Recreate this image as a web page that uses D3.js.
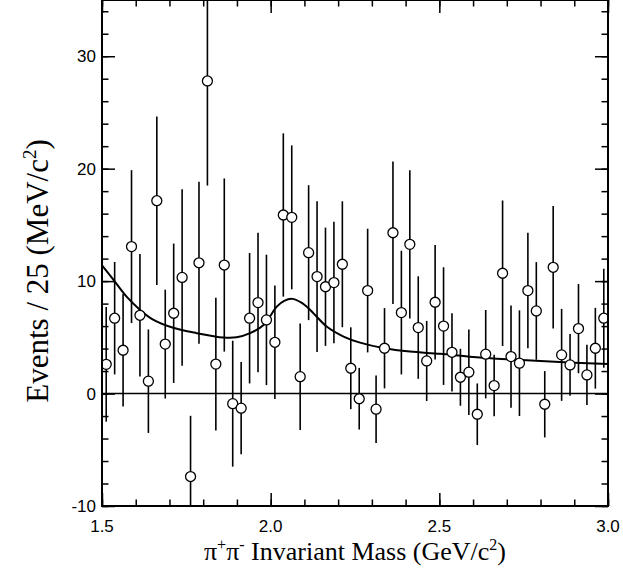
<!DOCTYPE html>
<html>
<head>
<meta charset="utf-8">
<script src="https://cdn.jsdelivr.net/npm/d3@7"></script>
<style>
  body { margin: 0; background: #fff; }
  .tick-label { font-family: "Liberation Sans", Arial, sans-serif; font-size: 17px; fill: #000; }
  .axis-title { font-family: "Liberation Serif", "Times New Roman", serif; fill: #000; }
</style>
</head>
<body>
<div id="chart"></div>
<script>
// bins: 25 MeV wide from 1.5 to 3.0 GeV
var binStart = 1.5;
var binWidth = 0.025;
var counts = [2.6, 6.7, 3.85, 13.07, 6.96, 1.1, 17.15, 4.4, 7.14, 10.33,
              -7.38, 11.63, 27.8, 2.62, 11.43, -0.9, -1.3, 6.7, 8.09, 6.55,
              4.56, 15.88, 15.67, 1.5, 12.53, 10.4, 9.5, 9.87, 11.5, 2.25,
              -0.46, 9.16, -1.39, 4.03, 14.3, 7.2, 13.27, 5.87, 2.9, 8.12,
              6.0, 3.67, 1.45, 1.9, -1.84, 3.5, 0.71, 10.7, 3.29, 2.7,
              9.16, 7.35, -0.95, 11.23, 3.44, 2.55, 5.78, 1.66, 4.03, 6.7];
var errors = [5.1, 5.0, 5.0, 6.8, 5.45, 4.6, 7.5, 4.84, 6.2, 7.85,
              5.4, 7.2, 9.3, 5.9, 7.7, 5.6, 4.1, 5.8, 6.2, 5.8,
              5.04, 7.26, 6.4, 4.74, 6.0, 6.7, 5.26, 5.4, 5.6, 3.64,
              2.74, 5.5, 3.0, 3.57, 6.33, 5.5, 6.6, 4.56, 3.56, 5.1,
              5.23, 3.48, 2.53, 3.8, 2.74, 3.93, 2.73, 6.47, 4.55, 4.7,
              5.14, 4.34, 2.95, 5.44, 4.09, 2.74, 3.97, 2.67, 3.59, 4.4];

// fit curve
var fitMass  = [1.5, 1.537, 1.575, 1.613, 1.65, 1.711, 1.781, 1.86, 1.899, 1.939, 1.979,
                2.018, 2.04, 2.064, 2.09, 2.117, 2.166, 2.216, 2.265, 2.337, 2.413,
                2.502, 2.6, 2.7, 2.8, 2.9, 3.0];
var fitValue = [11.4, 10.0, 8.55, 7.44, 6.6, 5.85, 5.37, 4.98, 5.0, 5.37, 6.1,
                7.73, 8.25, 8.42, 8.1, 7.44, 5.96, 5.07, 4.53, 4.03, 3.73,
                3.53, 3.25, 3.05, 2.9, 2.75, 2.62];

var xMajorTicks = [1.5, 2.0, 2.5, 3.0];
var yMajorTicks = [-10, 0, 10, 20, 30];

var chartWidth = 623, chartHeight = 571;
var margin = {top: 0, left: 102, right: 15, bottom: 65};
var width = chartWidth - margin.left - margin.right;
var height = chartHeight - margin.top - margin.bottom;

var svg = d3.select("#chart").append("svg")
    .attr("width", chartWidth)
    .attr("height", chartHeight);

var g = svg.append("g")
    .attr("transform", "translate(" + margin.left + "," + margin.top + ")");

var x = d3.scaleLinear().domain([1.5, 3.0]).range([0, width]);
var y = d3.scaleLinear().domain([-10, 35]).range([height, 0]);

g.append("clipPath").attr("id", "plot-clip")
  .append("rect").attr("width", width).attr("height", height);

var plot = g.append("g").attr("clip-path", "url(#plot-clip)");

// zero line
plot.append("line")
    .attr("x1", 0).attr("x2", width)
    .attr("y1", y(0)).attr("y2", y(0))
    .attr("stroke", "#000").attr("stroke-width", 1.4);

// fit curve
var line = d3.line()
    .x(function(d) { return x(d[0]); })
    .y(function(d) { return y(d[1]); })
    .curve(d3.curveCatmullRom);
plot.append("path")
    .datum(fitMass.map(function(m, i) { return [m, fitValue[i]]; }))
    .attr("d", line)
    .attr("fill", "none")
    .attr("stroke", "#000")
    .attr("stroke-width", 2);

var points = counts.map(function(c, i) {
    return {m: binStart + binWidth * (i + 0.5), v: c, e: errors[i]};
});

plot.selectAll(".err").data(points).join("line")
    .attr("class", "err")
    .attr("x1", function(d) { return x(d.m); })
    .attr("x2", function(d) { return x(d.m); })
    .attr("y1", function(d) { return y(d.v + d.e); })
    .attr("y2", function(d) { return y(d.v - d.e); })
    .attr("stroke", "#000")
    .attr("stroke-width", 1.6);

plot.selectAll(".pt").data(points).join("circle")
    .attr("class", "pt")
    .attr("cx", function(d) { return x(d.m); })
    .attr("cy", function(d) { return y(d.v); })
    .attr("r", 5)
    .attr("fill", "#fff")
    .attr("stroke", "#000")
    .attr("stroke-width", 1.3);

// axes: ticks on all four sides, labels left and bottom
function styleAxis(sel) {
    sel.select(".domain").remove();
    sel.selectAll(".tick line").attr("stroke", "#000").attr("stroke-width", 1.5);
}
var xMinor = d3.range(16).map(function(i) { return 1.5 + i * 0.1; });
var yMinor = d3.range(23).map(function(i) { return -10 + i * 2; });

g.append("g").attr("transform", "translate(0," + height + ")")
    .call(d3.axisTop(x).tickValues(xMinor).tickSize(6.5).tickFormat(""))
    .call(styleAxis);
g.append("g").attr("transform", "translate(0," + height + ")")
    .call(d3.axisTop(x).tickValues(xMajorTicks).tickSize(13).tickFormat(""))
    .call(styleAxis);
g.append("g")
    .call(d3.axisBottom(x).tickValues(xMinor).tickSize(6.5).tickFormat(""))
    .call(styleAxis);
g.append("g")
    .call(d3.axisBottom(x).tickValues(xMajorTicks).tickSize(13).tickFormat(""))
    .call(styleAxis);
g.append("g")
    .call(d3.axisRight(y).tickValues(yMinor).tickSize(6.5).tickFormat(""))
    .call(styleAxis);
g.append("g")
    .call(d3.axisRight(y).tickValues(yMajorTicks).tickSize(13).tickFormat(""))
    .call(styleAxis);
g.append("g").attr("transform", "translate(" + width + ",0)")
    .call(d3.axisLeft(y).tickValues(yMinor).tickSize(6.5).tickFormat(""))
    .call(styleAxis);
g.append("g").attr("transform", "translate(" + width + ",0)")
    .call(d3.axisLeft(y).tickValues(yMajorTicks).tickSize(13).tickFormat(""))
    .call(styleAxis);

// frame
g.append("rect")
    .attr("width", width).attr("height", height)
    .attr("fill", "none").attr("stroke", "#000").attr("stroke-width", 2);

// tick labels
g.selectAll(".xlab").data(xMajorTicks).join("text")
    .attr("class", "tick-label")
    .attr("x", function(d) { return x(d); })
    .attr("y", height + 26)
    .attr("text-anchor", "middle")
    .text(function(d) { return d.toFixed(1); });

g.selectAll(".ylab").data(yMajorTicks).join("text")
    .attr("class", "tick-label")
    .attr("x", -6)
    .attr("y", function(d) { return y(d); })
    .attr("dy", "0.35em")
    .attr("text-anchor", "end")
    .text(function(d) { return d; });

// axis titles
var xt = svg.append("text").attr("class", "axis-title")
    .attr("font-size", "26px")
    .attr("x", margin.left + width / 2)
    .attr("y", 560)
    .attr("text-anchor", "middle");
xt.append("tspan").text("\u03c0");
xt.append("tspan").attr("dy", -10).attr("font-size", "16px").text("+");
xt.append("tspan").attr("dy", 10).text("\u03c0");
xt.append("tspan").attr("dy", -10).attr("font-size", "16px").text("-");
xt.append("tspan").attr("dy", 10).text(" Invariant Mass (GeV/c");
xt.append("tspan").attr("dy", -10).attr("font-size", "16px").text("2");
xt.append("tspan").attr("dy", 10).text(")");

var yt = svg.append("text").attr("class", "axis-title")
    .attr("font-size", "31px")
    .attr("transform", "translate(48,271) rotate(-90)")
    .attr("text-anchor", "middle");
yt.append("tspan").text("Events / 25 (MeV/c");
yt.append("tspan").attr("dy", -12).attr("font-size", "19px").text("2");
yt.append("tspan").attr("dy", 12).text(")");
</script>
</body>
</html>
